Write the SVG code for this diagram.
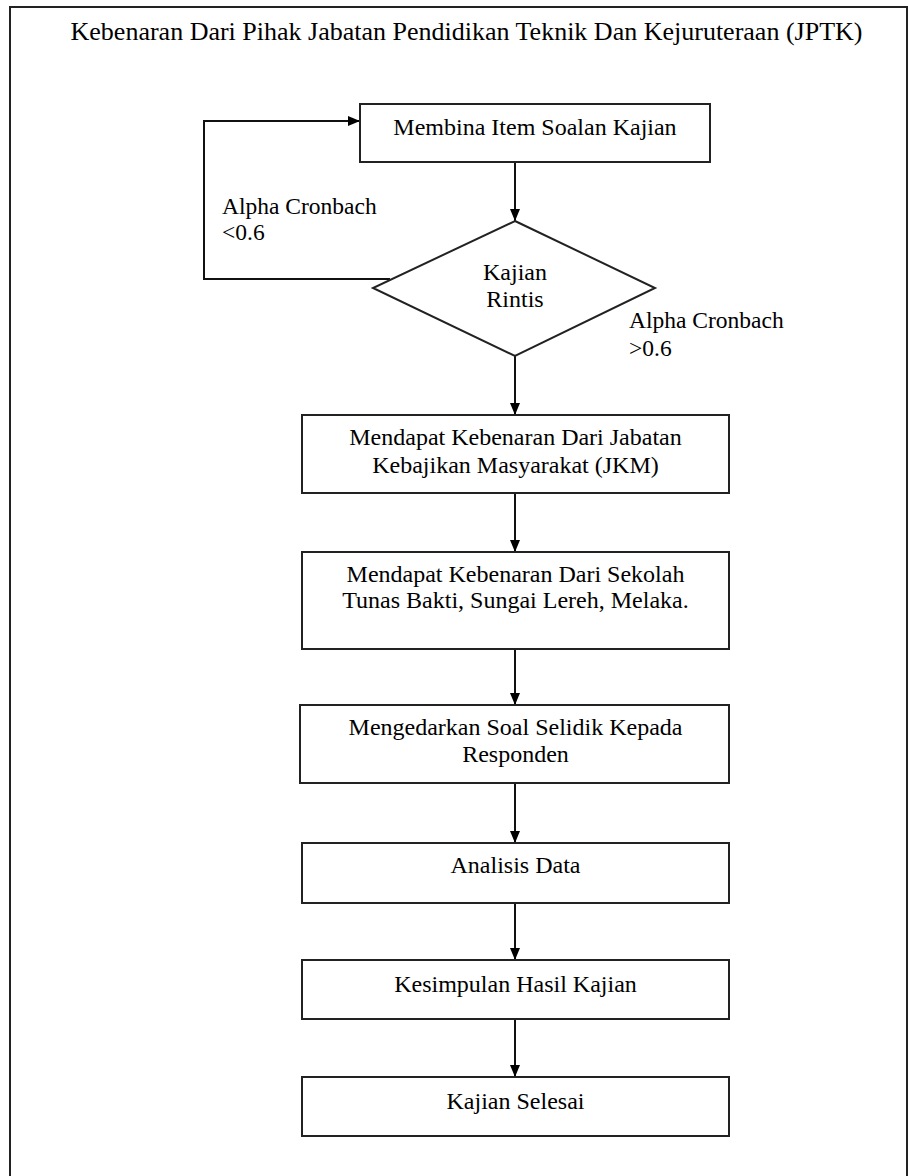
<svg xmlns="http://www.w3.org/2000/svg" width="909" height="1176" viewBox="0 0 909 1176">
<style>
.frame{fill:none;stroke:#222;stroke-width:2}
.box{fill:#fff;stroke:#222;stroke-width:2}
.ln{fill:none;stroke:#111;stroke-width:2}
text{font-family:"Liberation Serif","Times New Roman",serif;fill:#000}
.t{font-size:24px;text-anchor:middle}
.lbl{font-size:23.5px}
.title{font-size:26px;text-anchor:middle}
</style>
<defs>
<marker id="ah" markerWidth="12" markerHeight="10" refX="12" refY="5" orient="auto" markerUnits="userSpaceOnUse">
<path d="M0,0 L12,5 L0,10 z" fill="#000"/>
</marker>
</defs>
<rect width="909" height="1176" fill="#fff"/>
<rect class="frame" x="10" y="7" width="897" height="1190"/>
<text class="title" x="466.5" y="40">Kebenaran Dari Pihak Jabatan Pendidikan Teknik Dan Kejuruteraan (JPTK)</text>

<g id="connectors">
<path class="ln" d="M515,162 V221" marker-end="url(#ah)"/>
<path class="ln" d="M390,279 H204 V121 H360" marker-end="url(#ah)"/>
<path class="ln" d="M515,356 V415" marker-end="url(#ah)"/>
<path class="ln" d="M515,493 V552" marker-end="url(#ah)"/>
<path class="ln" d="M515,649 V705" marker-end="url(#ah)"/>
<path class="ln" d="M515,783 V843" marker-end="url(#ah)"/>
<path class="ln" d="M515,903 V960" marker-end="url(#ah)"/>
<path class="ln" d="M515,1019 V1077" marker-end="url(#ah)"/>
<text class="lbl" x="222" y="214">Alpha Cronbach</text>
<text class="lbl" x="222" y="240">&lt;0.6</text>
<text class="lbl" x="629" y="328">Alpha Cronbach</text>
<text class="lbl" x="629" y="356">&gt;0.6</text>
</g>

<g id="n1">
<rect class="box" x="360" y="104" width="350" height="58"/>
<text class="t" x="535" y="135">Membina Item Soalan Kajian</text>
</g>
<g id="n2">
<polygon class="box" points="515,221 655,288 515,356 373,288"/>
<text class="t" x="515" y="280">Kajian</text>
<text class="t" x="515" y="307">Rintis</text>
</g>
<g id="n3">
<rect class="box" x="302" y="415" width="427" height="78"/>
<text class="t" x="515.5" y="445">Mendapat Kebenaran Dari Jabatan</text>
<text class="t" x="515.5" y="473">Kebajikan Masyarakat (JKM)</text>
</g>
<g id="n4">
<rect class="box" x="302" y="552" width="427" height="97"/>
<text class="t" x="515.5" y="582">Mendapat Kebenaran Dari Sekolah</text>
<text class="t" x="515.5" y="608">Tunas Bakti, Sungai Lereh, Melaka.</text>
</g>
<g id="n5">
<rect class="box" x="300" y="705" width="429" height="78"/>
<text class="t" x="515.5" y="735">Mengedarkan Soal Selidik Kepada</text>
<text class="t" x="515.5" y="762">Responden</text>
</g>
<g id="n6">
<rect class="box" x="302" y="843" width="427" height="60"/>
<text class="t" x="515.5" y="873">Analisis Data</text>
</g>
<g id="n7">
<rect class="box" x="302" y="960" width="427" height="59"/>
<text class="t" x="515.5" y="992">Kesimpulan Hasil Kajian</text>
</g>
<g id="n8">
<rect class="box" x="302" y="1077" width="427" height="59"/>
<text class="t" x="515.5" y="1109">Kajian Selesai</text>
</g>
</svg>
